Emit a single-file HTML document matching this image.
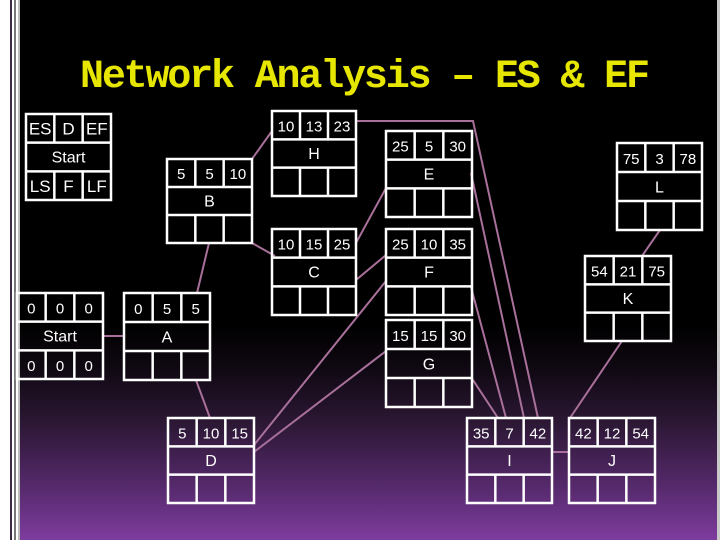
<!DOCTYPE html>
<html><head><meta charset="utf-8"><style>
html,body{margin:0;padding:0;width:720px;height:540px;overflow:hidden;background:#fff}
#bg{position:absolute;left:20px;top:0;width:697px;height:540px;background:linear-gradient(to bottom,#000 0%,#000 60%,#0f0812 68%,#2b1733 78%,#55296b 90%,#7e3c9e 100%)}
svg{position:absolute;left:0;top:0}
</style></head><body>
<div style="position:absolute;left:10px;top:0;width:2px;height:540px;background:#3a2a44"></div>
<div style="position:absolute;left:14px;top:0;width:2px;height:540px;background:#777"></div>
<div style="position:absolute;left:18px;top:0;width:2px;height:540px;background:#bbb"></div>
<div id="bg"></div>
<div style="position:absolute;left:717px;top:0;width:3px;height:540px;background:#c8c8c8"></div>
<svg width="720" height="540" viewBox="0 0 720 540" font-family="'Liberation Sans',sans-serif">
<text x="80" y="87" font-family="'Liberation Mono',monospace" font-weight="bold" font-size="40" fill="#e6e600" textLength="570">Network Analysis – ES &amp; EF</text>
<g stroke="#a8709a" stroke-width="2" fill="none">
<line x1="103" y1="336" x2="124" y2="336"/>
<line x1="197" y1="293" x2="209" y2="243"/>
<line x1="196" y1="380" x2="210" y2="418"/>
<line x1="252" y1="159" x2="272" y2="131"/>
<line x1="252" y1="243" x2="275" y2="256"/>
<line x1="356" y1="243" x2="386" y2="188"/>
<line x1="356" y1="280" x2="386" y2="255"/>
<line x1="254" y1="445" x2="386" y2="281"/>
<line x1="254" y1="452" x2="386" y2="351"/>
<polyline points="356,121 473,121 538,418"/>
<line x1="471" y1="173" x2="524" y2="418"/>
<line x1="471" y1="287" x2="506" y2="418"/>
<line x1="471" y1="377" x2="498" y2="418"/>
<line x1="552" y1="452" x2="569" y2="452"/>
<line x1="622" y1="341" x2="570" y2="418"/>
<line x1="642" y1="256" x2="660" y2="230"/>
</g>
<g id="boxes" stroke="#fff" stroke-width="2.5" fill="none"></g>
<g id="txt" fill="#fff" font-size="15" text-anchor="middle"></g>
</svg>
<script>
var B=[
[26,114,111,200,["ES","D","EF"],"Start",["LS","F","LF"]],
[17,293,103,379,["0","0","0"],"Start",["0","0","0"]],
[124,293,210,380,["0","5","5"],"A",null],
[167,159,252,243,["5","5","10"],"B",null],
[272,111,356,196,["10","13","23"],"H",null],
[272,229,356,315,["10","15","25"],"C",null],
[386,131,472,217,["25","5","30"],"E",null],
[386,229,472,315,["25","10","35"],"F",null],
[386,320,472,407,["15","15","30"],"G",null],
[617,143,702,230,["75","3","78"],"L",null],
[585,256,671,341,["54","21","75"],"K",null],
[168,418,254,503,["5","10","15"],"D",null],
[467,418,552,503,["35","7","42"],"I",null],
[569,418,655,503,["42","12","54"],"J",null]];
var ns="http://www.w3.org/2000/svg",g=document.getElementById("boxes"),t=document.getElementById("txt");
function el(p,n,a,s){var e=document.createElementNS(ns,n);for(var k in a)e.setAttribute(k,a[k]);if(s!=null)e.textContent=s;p.appendChild(e);}
B.forEach(function(b){var x1=b[0],y1=b[1],x2=b[2],y2=b[3],w=x2-x1,h=(y2-y1)/3;
el(g,"rect",{x:x1,y:y1,width:w,height:y2-y1});
el(g,"line",{x1:x1,y1:y1+h,x2:x2,y2:y1+h});el(g,"line",{x1:x1,y1:y1+2*h,x2:x2,y2:y1+2*h});
for(var i=1;i<3;i++){var cx=x1+w*i/3;el(g,"line",{x1:cx,y1:y1,x2:cx,y2:y1+h});el(g,"line",{x1:cx,y1:y1+2*h,x2:cx,y2:y2});}
var fs=b[4][0]=="ES"?17:15;
for(var i=0;i<3;i++){el(t,"text",{x:x1+w*(i+.5)/3,y:y1+h*0.72,"font-size":fs},b[4][i]);if(b[6])el(t,"text",{x:x1+w*(i+.5)/3,y:y1+2*h+h*0.72,"font-size":fs},b[6][i]);}
el(t,"text",{x:x1+w/2,y:y1+h*1.7,"font-size":16},b[5]);});
</script>
</body></html>
